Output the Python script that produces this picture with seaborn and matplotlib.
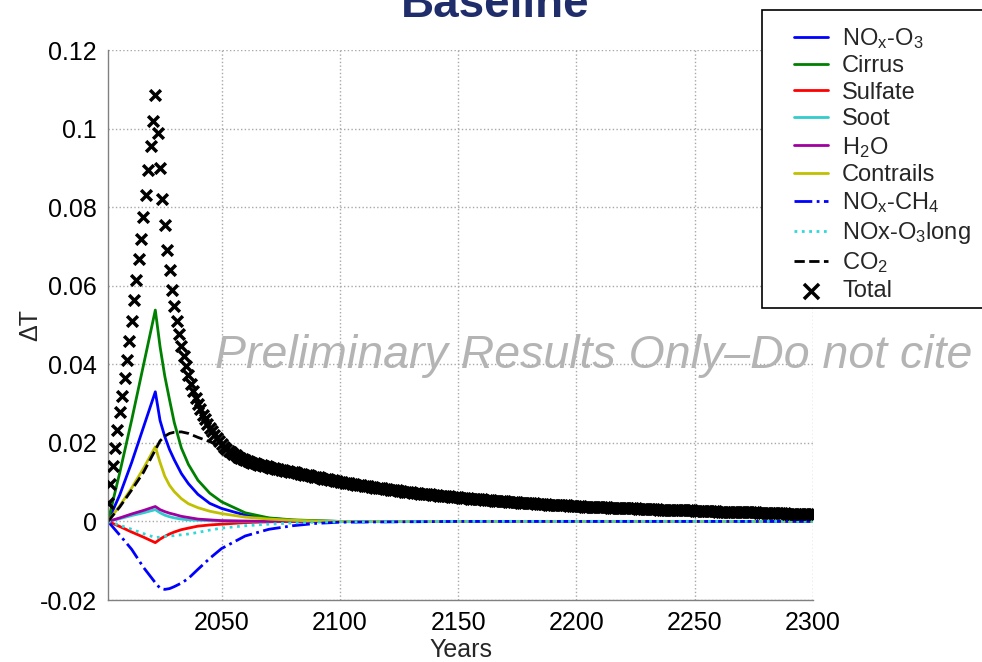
import matplotlib
matplotlib.use("Agg")
import numpy as np
import matplotlib.pyplot as plt
import seaborn as sns
from matplotlib.patches import Rectangle

# ---------------- data ----------------
total_start_year = 2002
total = [
    0.0048, 0.0095, 0.0141, 0.0188, 0.0233, 0.0279, 0.0319, 0.0364, 0.0411, 0.0460,
    0.0511, 0.0563, 0.0614, 0.0667, 0.0720, 0.0776, 0.0832, 0.0894, 0.0956, 0.1020,
    0.1085, 0.0988, 0.0900, 0.0822, 0.0754, 0.0692, 0.0640, 0.0590, 0.0548, 0.0511,
    0.0476, 0.0447, 0.0420, 0.0395, 0.0372, 0.0351, 0.0332, 0.0315, 0.0299, 0.0285,
    0.0272, 0.0260, 0.0249, 0.0239, 0.0229, 0.0220, 0.0212, 0.0204, 0.0196, 0.0190,
    0.0185, 0.0180, 0.0176, 0.0172, 0.0168, 0.0165, 0.0162, 0.0159, 0.0156, 0.0154,
    0.0152, 0.0150, 0.0148, 0.0146, 0.0144, 0.0143, 0.0141, 0.0140, 0.0138, 0.0137,
    0.0136, 0.0134, 0.0133, 0.0132, 0.0131, 0.0129, 0.0128, 0.0127, 0.0126, 0.0125,
    0.0123, 0.0122, 0.0121, 0.0119, 0.0118, 0.0117, 0.0116, 0.0114, 0.0113, 0.0112,
    0.0111, 0.0109, 0.0108, 0.0107, 0.0106, 0.0105, 0.0103, 0.0102, 0.0101, 0.0100,
    0.0099, 0.0098, 0.0097, 0.0096, 0.0095, 0.0094, 0.0093, 0.0092, 0.0091, 0.0090,
    0.0089, 0.0088, 0.0087, 0.0086, 0.0086, 0.0085, 0.0084, 0.0083, 0.0082, 0.0081,
    0.0080, 0.0080, 0.0079, 0.0078, 0.0077, 0.0076, 0.0076, 0.0075, 0.0074, 0.0073,
    0.0073, 0.0072, 0.0071, 0.0071, 0.0070, 0.0069, 0.0069, 0.0068, 0.0067, 0.0067,
    0.0066, 0.0065, 0.0065, 0.0064, 0.0064, 0.0063, 0.0062, 0.0062, 0.0061, 0.0060,
    0.0060, 0.0059, 0.0059, 0.0058, 0.0058, 0.0057, 0.0057, 0.0056, 0.0056, 0.0055,
    0.0055, 0.0054, 0.0054, 0.0053, 0.0053, 0.0052, 0.0052, 0.0051, 0.0051, 0.0050,
    0.0050, 0.0049, 0.0049, 0.0049, 0.0048, 0.0048, 0.0047, 0.0047, 0.0046, 0.0046,
    0.0046, 0.0045, 0.0045, 0.0044, 0.0044, 0.0044, 0.0043, 0.0043, 0.0043, 0.0042,
    0.0042, 0.0042, 0.0041, 0.0041, 0.0041, 0.0040, 0.0040, 0.0040, 0.0039, 0.0039,
    0.0039, 0.0038, 0.0038, 0.0038, 0.0038, 0.0037, 0.0037, 0.0037, 0.0036, 0.0036,
    0.0036, 0.0036, 0.0035, 0.0035, 0.0035, 0.0035, 0.0034, 0.0034, 0.0034, 0.0034,
    0.0033, 0.0033, 0.0033, 0.0033, 0.0032, 0.0032, 0.0032, 0.0032, 0.0031, 0.0031,
    0.0031, 0.0031, 0.0031, 0.0030, 0.0030, 0.0030, 0.0030, 0.0030, 0.0029, 0.0029,
    0.0029, 0.0029, 0.0029, 0.0028, 0.0028, 0.0028, 0.0028, 0.0028, 0.0027, 0.0027,
    0.0027, 0.0027, 0.0027, 0.0026, 0.0026, 0.0026, 0.0026, 0.0026, 0.0025, 0.0025,
    0.0025, 0.0025, 0.0025, 0.0025, 0.0024, 0.0024, 0.0024, 0.0024, 0.0024, 0.0023,
    0.0023, 0.0023, 0.0023, 0.0023, 0.0023, 0.0022, 0.0022, 0.0022, 0.0022, 0.0022,
    0.0022, 0.0021, 0.0021, 0.0021, 0.0021, 0.0021, 0.0021, 0.0020, 0.0020, 0.0020,
    0.0020, 0.0020, 0.0020, 0.0019, 0.0019, 0.0019, 0.0019, 0.0019, 0.0019,
]

comp_years = [2002, 2007, 2012, 2017, 2022, 2024, 2026, 2028, 2030, 2033, 2036, 2040,
              2045, 2050, 2060, 2070, 2080, 2090, 2100, 2150, 2200, 2250, 2300]
nox_o3 = [0, 0.0068, 0.0150, 0.0240, 0.0330, 0.0257, 0.0216, 0.0183, 0.0157, 0.0122, 0.0096, 0.0069,
          0.0046, 0.0033, 0.0016, 0.0008, 0.0003, 0.0001, 0, 0, 0, 0, 0]
cirrus = [0, 0.0125, 0.0258, 0.0398, 0.0538, 0.0445, 0.0370, 0.0310, 0.0252, 0.0187, 0.0145, 0.0105,
          0.0072, 0.0050, 0.0022, 0.0009, 0.0004, 0.0002, 0, 0, 0, 0, 0]
sulfate = [0, -0.0013, -0.0027, -0.0040, -0.0054, -0.0045, -0.0038, -0.0032, -0.0027, -0.0021, -0.0017, -0.0012,
           -0.0009, -0.0007, -0.0003, -0.0001, 0, 0, 0, 0, 0, 0, 0]
soot = [0, 0.0007, 0.0015, 0.0022, 0.0030, 0.0022, 0.0016, 0.0012, 0.0009, 0.0006, 0.0004, 0.0003,
        0.0002, 0.0001, 0, 0, 0, 0, 0, 0, 0, 0, 0]
h2o = [0, 0.0009, 0.0019, 0.0028, 0.0038, 0.0030, 0.0025, 0.0021, 0.0018, 0.0013, 0.0010, 0.0006,
       0.0004, 0.0002, 0.0001, 0, 0, 0, 0, 0, 0, 0, 0]
contrails = [0, 0.0040, 0.0085, 0.0135, 0.0190, 0.0150, 0.0115, 0.0092, 0.0076, 0.0058, 0.0045, 0.0035,
             0.0026, 0.0020, 0.0011, 0.0006, 0.0003, 0.0001, 0, 0, 0, 0, 0]
nox_ch4 = [0, -0.0035, -0.0071, -0.0117, -0.0156, -0.0170, -0.0173, -0.0171, -0.0166, -0.0157, -0.0145, -0.0122,
           -0.0094, -0.0069, -0.0037, -0.0020, -0.0011, -0.0005, -0.0002, 0, 0, 0, 0]
nox_o3long = [0, -0.0010, -0.0020, -0.0031, -0.0041, -0.0040, -0.0038, -0.0037, -0.0036, -0.0034, -0.0032, -0.0028,
              -0.0022, -0.0017, -0.0011, -0.0007, -0.0004, -0.0002, -0.0001, 0, 0, 0, 0]
co2 = [0, 0.0037, 0.0080, 0.0125, 0.0182, 0.0205, 0.0217, 0.0224, 0.0227, 0.0228, 0.0224, 0.0214,
       0.0203, 0.0190, 0.0160, 0.0142, 0.0128, 0.0115, 0.0101, 0.0061, 0.0040, 0.0029, 0.0021]

labels = ["NO$_\\mathrm{x}$-O$_3$", "Cirrus", "Sulfate", "Soot", "H$_2$O", "Contrails",
          "NO$_\\mathrm{x}$-CH$_4$", "NOx-O$_3$long", "CO$_2$", "Total"]
xticks = [2050, 2100, 2150, 2200, 2250, 2300]
yticks = [-0.02, 0, 0.02, 0.04, 0.06, 0.08, 0.1, 0.12]
ytick_labels = ["-0.02", "0", "0.02", "0.04", "0.06", "0.08", "0.1", "0.12"]

# ---------------- style ----------------
sns.set_theme(style="white")
plt.rcParams["font.family"] = ["Liberation Sans", "DejaVu Sans"]
plt.rcParams["mathtext.fontset"] = "custom"
plt.rcParams["mathtext.rm"] = "Liberation Sans"
plt.rcParams["mathtext.it"] = "Liberation Sans:italic"
plt.rcParams["mathtext.default"] = "regular"

W, H = 982, 662
fig = plt.figure(figsize=(W / 100, H / 100), dpi=100)
ax = fig.add_axes([108 / W, 1 - 600 / H, (813 - 108) / W, 550 / H])

series = [
    (nox_o3, "#0000FF", "-"),
    (cirrus, "#008000", "-"),
    (sulfate, "#FF0000", "-"),
    (soot, "#33CCCC", "-"),
    (h2o, "#A000A0", "-"),
    (contrails, "#C0C000", "-"),
    (nox_ch4, "#0000FF", "-."),
    (nox_o3long, "#30D8D8", ":"),
    (co2, "#000000", "--"),
]
for (vals, col, ls), lab in zip(series, labels[:-1]):
    sns.lineplot(x=comp_years, y=vals, color=col, linestyle=ls, linewidth=2.0,
                 label=lab, ax=ax, sort=False)

years = np.arange(total_start_year, total_start_year + len(total))
sns.scatterplot(x=years, y=total, marker="x", s=60, linewidth=2.5, color="black",
                label=labels[-1], ax=ax, zorder=5)

ax.set_xlim(2002, 2300)
ax.set_ylim(-0.02, 0.12)
ax.set_xticks(xticks)
ax.set_xticklabels([str(t) for t in xticks])
ax.set_yticks(yticks)
ax.set_yticklabels(ytick_labels)
ax.tick_params(direction="in", length=5, width=1, color="#808080", labelsize=18,
               labelcolor="black", pad=8)
ax.grid(True, linestyle=":", color="#a8a8a8", linewidth=1.0)
for s in ["top", "right"]:
    ax.spines[s].set_visible(False)
for s in ["left", "bottom"]:
    ax.spines[s].set_color("#808080")
    ax.spines[s].set_linewidth(1)
ax.set_xlabel("Years", fontsize=18, labelpad=2)
ax.set_ylabel("ΔT", fontsize=18, labelpad=-2)

handles, labs = ax.get_legend_handles_labels()
ax.get_legend().remove()

# legend frame
fig.patches.append(Rectangle((762 / W, 1 - 308 / H), (995 - 762) / W, 298 / H,
                             transform=fig.transFigure, facecolor="white",
                             edgecolor="black", linewidth=1.2, zorder=4))
leg = fig.legend(handles, labs, loc="upper left", bbox_to_anchor=(782 / W, 1 - 14 / H),
                 frameon=False, borderpad=0, fontsize=17, handlelength=1.45,
                 handletextpad=0.6, labelspacing=0.19, markerscale=1.4)
leg.set_zorder(6)

# title (partly cut off at top, as in the source)
fig.text(495 / W, 1 - 17 / H, "Baseline", ha="center", va="baseline", fontsize=33,
         fontweight="bold", color="#1F2D6B")

# watermark
fig.text(215 / W, 1 - 368 / H, "Preliminary Results Only–Do not cite", ha="left",
         va="baseline", fontsize=33.5, style="italic", color="#b4b4b4", zorder=7)

fig.savefig("out.png", dpi=100)
